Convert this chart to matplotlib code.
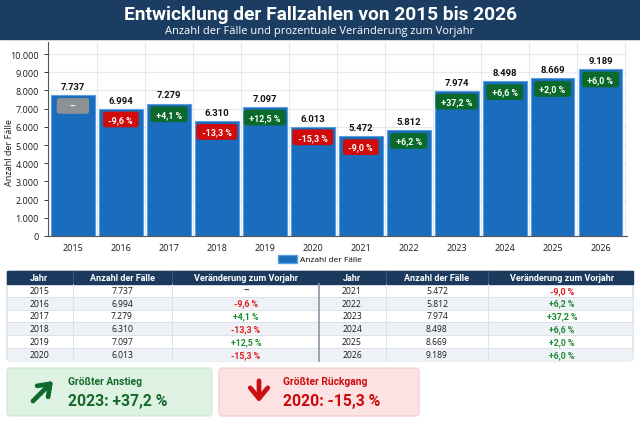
import matplotlib.pyplot as plt
from matplotlib.patches import Rectangle, FancyBboxPatch, Patch
import matplotlib.ticker as mticker

# fette Texte in Roboto, normale in Open Sans
plt.rcParams['font.family'] = ['Open Sans', 'DejaVu Sans']
FETT = ['Roboto', 'DejaVu Sans']

# Daten
jahre = [2015, 2016, 2017, 2018, 2019, 2020, 2021, 2022, 2023, 2024, 2025, 2026]
faelle = [7737, 6994, 7279, 6310, 7097, 6013, 5472, 5812, 7974, 8498, 8669, 9189]
veraenderung = [None, -9.6, 4.1, -13.3, 12.5, -15.3, -9.0, 6.2, 37.2, 6.6, 2.0, 6.0]

titel = "Entwicklung der Fallzahlen von 2015 bis 2026"
untertitel = "Anzahl der Fälle und prozentuale Veränderung zum Vorjahr"
spalten = ["Jahr", "Anzahl der Fälle", "Veränderung zum Vorjahr"]

BLAU = "#1a6dbd"
ROT = "#d10a0a"
GRUEN = "#0b6a2b"
GRAU = "#8c9196"


def de_zahl(v):
    return f"{v:,}".replace(",", ".")


def de_proz(p):
    if p is None:
        return "–"
    return f"{p:+.1f} %".replace(".", ",")


def farbe(p):
    if p is None:
        return GRAU
    return GRUEN if p >= 0 else ROT


fig = plt.figure(figsize=(6.4, 4.27), dpi=100)

# Hintergrund-Achse in Pixelkoordinaten
bg = fig.add_axes([0, 0, 1, 1], zorder=0)
bg.set_xlim(0, 640)
bg.set_ylim(427, 0)
bg.axis("off")

# --- Kopfzeile
bg.add_patch(Rectangle((0, 0), 640, 40, color="#1b3d62"))
bg.text(320, 14.5, titel, ha="center", va="center", color="white",
        fontsize=13.8, fontweight="bold", family=FETT)
bg.text(320, 31.5, untertitel, ha="center", va="center", color="white",
        fontsize=8.0)

# --- Balkendiagramm
ax = fig.add_axes([48 / 640, 1 - 237 / 427, 579 / 640, 194 / 427], zorder=1)
x = list(range(len(jahre)))
ax.bar(x, faelle, width=0.91, color=BLAU, edgecolor="#5b9fe0", linewidth=0.8, zorder=3)
ax.set_xlim(-0.52, 11.55)
ax.set_ylim(0, 10660)
ax.set_yticks(range(0, 10001, 1000))
ax.yaxis.set_major_formatter(mticker.FuncFormatter(lambda v, pos: de_zahl(int(v))))
ax.set_xticks(x)
ax.set_xticklabels([str(j) for j in jahre])
ax.tick_params(axis="both", labelsize=6.5, colors="#1a1a1a", length=3, width=0.6)
ax.tick_params(axis="x", length=0, pad=5)
for s in ["top", "right"]:
    ax.spines[s].set_visible(False)
ax.spines["left"].set_color("#555555")
ax.spines["bottom"].set_color("#555555")
ax.grid(axis="y", color="#e6eaf0", linewidth=0.8, zorder=0)
for g in range(len(jahre)):
    ax.axvline(g + 0.5, color="#e6eaf0", linewidth=0.8, zorder=0)

for i, (v, p) in enumerate(zip(faelle, veraenderung)):
    ax.text(i, v + 470, de_zahl(v), ha="center", va="center", fontsize=6.8,
            fontweight="bold", family=FETT, color="#111111", zorder=5)
    txt = " " + de_proz(p) + " " if p is not None else "\u2007\u2007–\u2007\u2007"
    ax.text(i, v - 590, txt, ha="center", va="center", fontsize=6.4,
            fontweight="bold", family=FETT, color="white", zorder=5,
            bbox=dict(boxstyle="round,pad=0.38,rounding_size=0.3",
                      fc=farbe(p), ec="none"))

fig.text(10 / 640, 1 - 153 / 427, "Anzahl der Fälle", rotation=90,
         ha="center", va="center", fontsize=6.6, color="#1a1a1a")

ax.legend(handles=[Patch(facecolor=BLAU, edgecolor="#5b9fe0", label="Anzahl der Fälle")],
          loc="center", bbox_to_anchor=(320 / 640, 1 - 260 / 427),
          bbox_transform=fig.transFigure, frameon=False, fontsize=6.0,
          handlelength=2.3, handleheight=1.1, handletextpad=0.4)

# --- Tabelle
oben, kopf_h, zeile_h = 272, 13, 12.8
links, rechts, mitte = 7, 633, 319
hoehe = kopf_h + 6 * zeile_h
bg.add_patch(FancyBboxPatch((links, oben), rechts - links, hoehe,
                            boxstyle="round,pad=0,rounding_size=3",
                            fc="white", ec="#c9d1db", lw=0.8))
bg.add_patch(Rectangle((links, oben), rechts - links, kopf_h, color="#1b3a5e"))
for r in range(6):
    y0 = oben + kopf_h + r * zeile_h
    if r % 2 == 1:
        bg.add_patch(Rectangle((links + 0.5, y0), rechts - links - 1, zeile_h,
                               color="#eef2f7", lw=0))
    if r > 0:
        bg.plot([links, rechts], [y0, y0], color="#d8dee6", lw=0.6)

haelften = [
    ([links, 73, 172, mitte], [39, 122, 246], 0),
    ([mitte, 386, 488, rechts], [352, 437, 562], 6),
]
for grenzen, mitten, start in haelften:
    for gx in grenzen[1:-1]:
        bg.plot([gx, gx], [oben, oben + kopf_h], color="#3d5c80", lw=0.6)
        bg.plot([gx, gx], [oben + kopf_h, oben + hoehe], color="#d8dee6", lw=0.6)
    for c, name in enumerate(spalten):
        bg.text(mitten[c], oben + kopf_h / 2, name, ha="center", va="center",
                color="white", fontsize=6.5, fontweight="bold", family=FETT)
    for r in range(6):
        k = start + r
        yc = oben + kopf_h + r * zeile_h + zeile_h / 2
        bg.text(mitten[0], yc, str(jahre[k]), ha="center", va="center",
                fontsize=6.2, color="#1a1a1a")
        bg.text(mitten[1], yc, de_zahl(faelle[k]), ha="center", va="center",
                fontsize=6.2, color="#1a1a1a")
        p = veraenderung[k]
        c_txt = "#333333" if p is None else ("#1c8a30" if p >= 0 else "#e3191b")
        bg.text(mitten[2], yc, de_proz(p), ha="center", va="center",
                fontsize=6.3, color=c_txt, fontweight="bold", family=FETT)
bg.plot([mitte, mitte], [oben + kopf_h, oben + hoehe], color="#8a96a5", lw=1.2)

# --- Infoboxen: größter Anstieg / Rückgang
werte = [(p, j) for p, j in zip(veraenderung, jahre) if p is not None]
max_p, max_j = max(werte)
min_p, min_j = min(werte)

bg.add_patch(FancyBboxPatch((7, 369), 205, 48, boxstyle="round,pad=0,rounding_size=3",
                            fc="#ddf2e3", ec="#cbe8d3", lw=0.8))
bg.add_patch(FancyBboxPatch((219, 369), 200, 48, boxstyle="round,pad=0,rounding_size=3",
                            fc="#fde2e4", ec="#f6cace", lw=0.8))

bg.annotate("", xy=(55, 380), xytext=(31, 404),
            arrowprops=dict(arrowstyle="->,head_length=0.55,head_width=0.4",
                            lw=3.4, color="#0e6a2a", mutation_scale=14))
bg.annotate("", xy=(259, 406), xytext=(259, 379),
            arrowprops=dict(arrowstyle="->,head_length=0.55,head_width=0.45",
                            lw=3.4, color="#cc1010", mutation_scale=14))

bg.text(68, 382, "Größter Anstieg", ha="left", va="center", fontsize=7.4,
        fontweight="bold", family=FETT, color="#17692b")
bg.text(68, 401.5, f"{max_j}: {de_proz(max_p)}", ha="left", va="center",
        fontsize=11.3, fontweight="bold", family=FETT, color="#17692b")
bg.text(283, 382, "Größter Rückgang", ha="left", va="center", fontsize=7.4,
        fontweight="bold", family=FETT, color="#cc0a0a")
bg.text(283, 401.5, f"{min_j}: {de_proz(min_p)}", ha="left", va="center",
        fontsize=11.3, fontweight="bold", family=FETT, color="#cc0a0a")

fig.savefig("out.png", dpi=100, facecolor="white")
